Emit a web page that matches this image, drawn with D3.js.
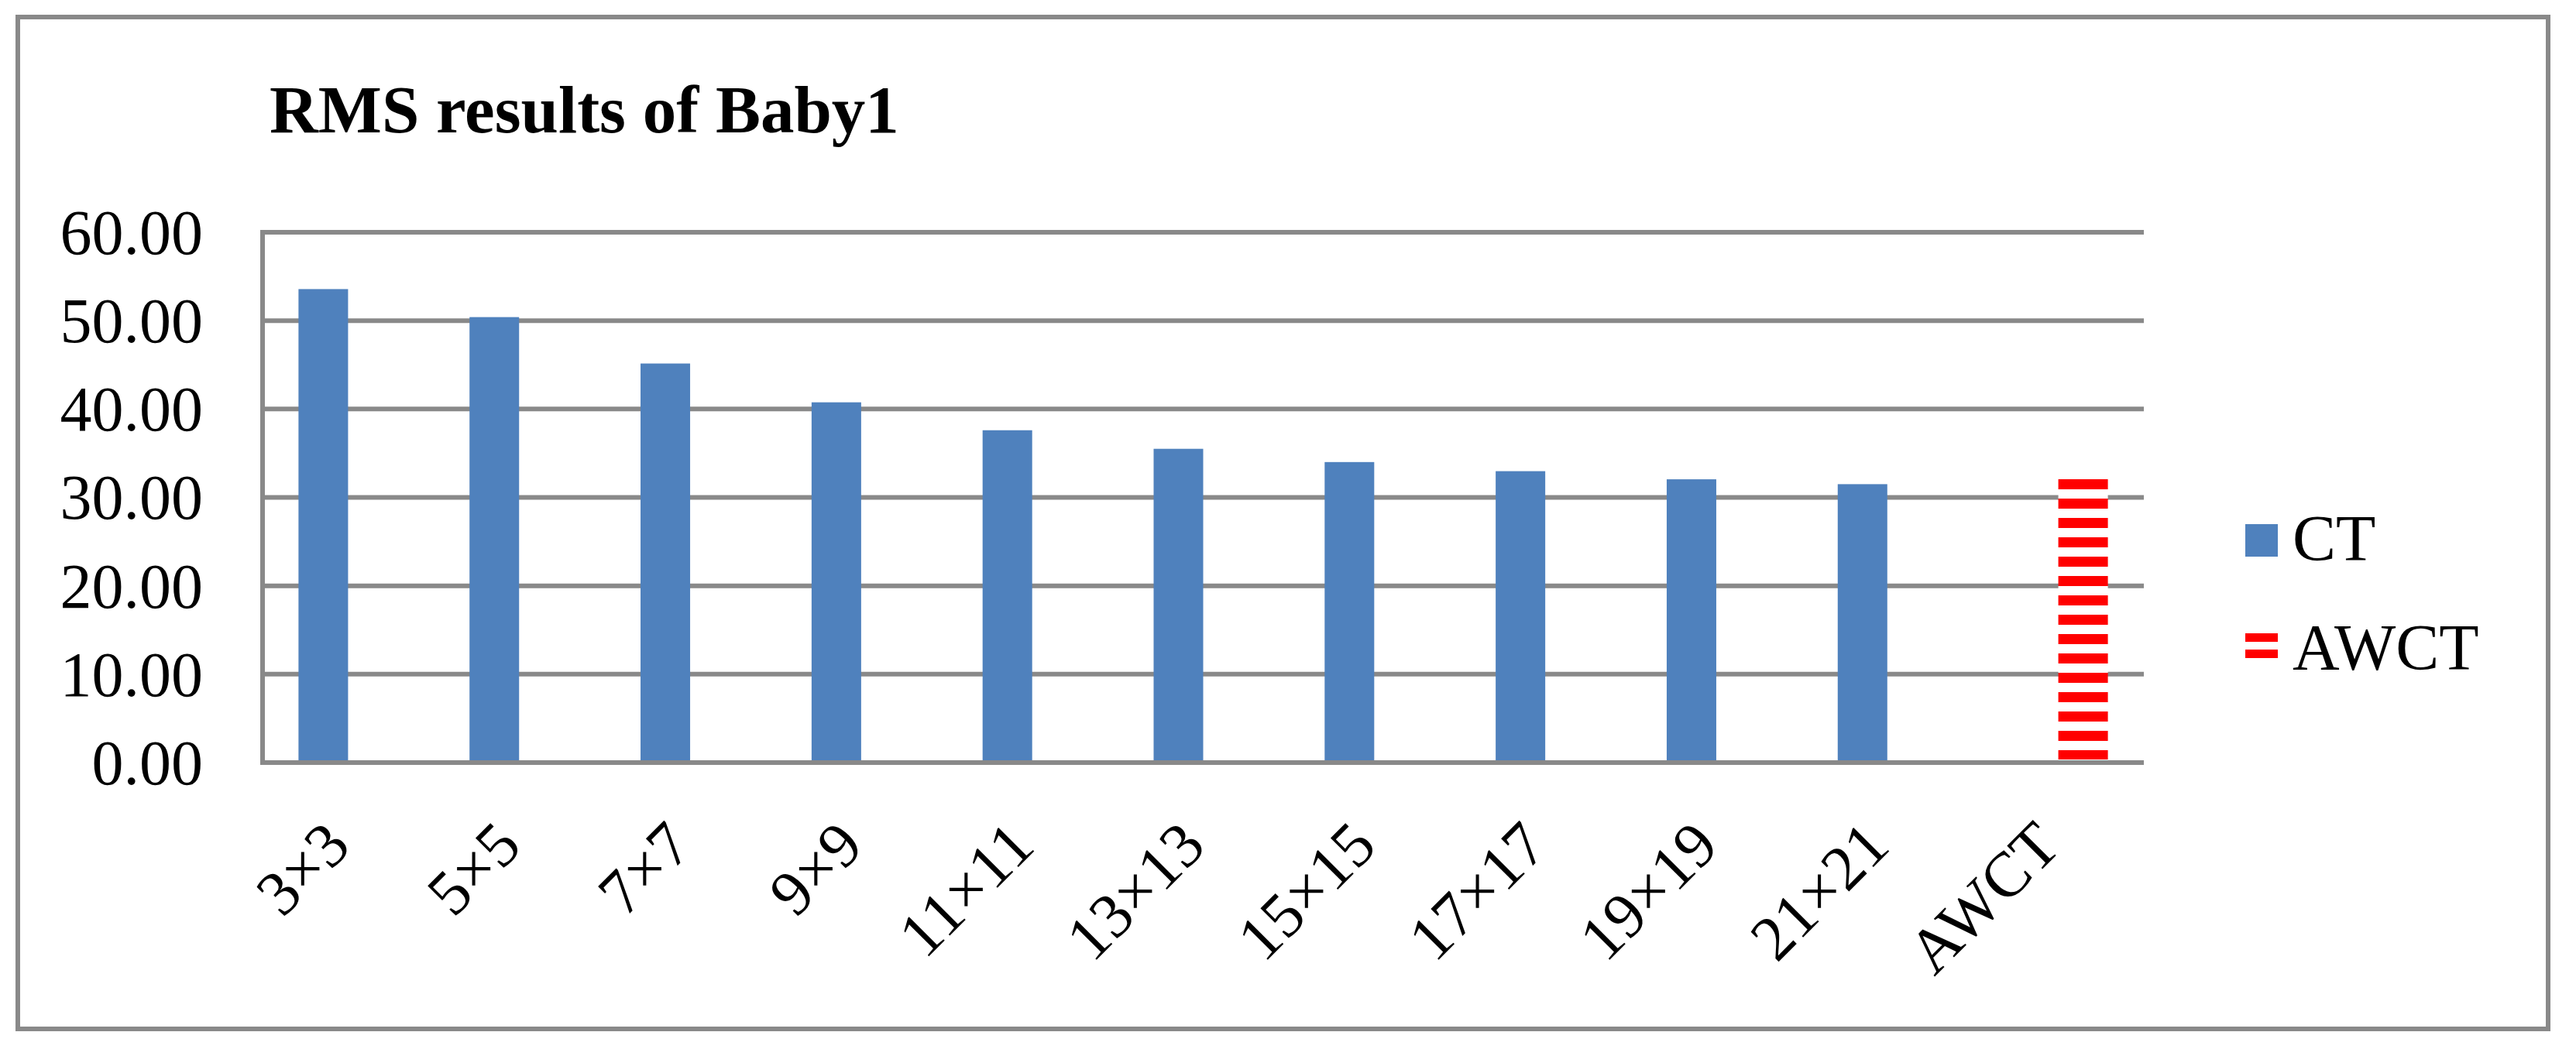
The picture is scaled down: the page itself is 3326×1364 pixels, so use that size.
<!DOCTYPE html>
<html>
<head>
<meta charset="utf-8">
<script src="https://cdn.jsdelivr.net/npm/d3@7"></script>
<style>
  html, body { margin: 0; padding: 0; background: #fff; }
  svg { display: block; }
  text { font-family: "Times New Roman", "Liberation Serif", serif; fill: #000; }
</style>
</head>
<body>
<svg id="chart" width="3326" height="1364"></svg>
<script>
// ---- data ----
const categories = ["3×3", "5×5", "7×7", "9×9", "11×11", "13×13", "15×15", "17×17", "19×19", "21×21", "AWCT"];
const ctValues   = [53.57, 50.40, 45.15, 40.76, 37.60, 35.50, 34.00, 32.97, 32.05, 31.50, null];
const awctValues = [null, null, null, null, null, null, null, null, null, null, 32.10];
const seriesNames = ["CT", "AWCT"];
const yTicks = [0, 10, 20, 30, 40, 50, 60];
const titleText = "RMS results of Baby1";

// ---- layout ----
const plot = { left: 339, right: 2768, top: 300, bottom: 985 };
const gray = "#898989";
const blue = "#4F81BD";
const red = "#FF0000";

const svg = d3.select("#chart");

// pattern for AWCT (horizontal dashes)
const defs = svg.append("defs");
const pat = defs.append("pattern")
  .attr("id", "awctPat")
  .attr("patternUnits", "userSpaceOnUse")
  .attr("width", 20).attr("height", 25)
  .attr("y", 619);
pat.append("rect").attr("width", 20).attr("height", 25).attr("fill", "#fff");
pat.append("rect").attr("y", 0).attr("width", 20).attr("height", 13).attr("fill", red);

const lpat = defs.append("pattern")
  .attr("id", "legPat").attr("patternUnits", "userSpaceOnUse")
  .attr("width", 20).attr("height", 21).attr("y", 818);
lpat.append("rect").attr("width", 20).attr("height", 21).attr("fill", "#fff");
lpat.append("rect").attr("width", 20).attr("height", 11).attr("fill", red);

// outer border
svg.append("rect")
  .attr("x", 23).attr("y", 22)
  .attr("width", 3290 - 23).attr("height", 1329 - 22)
  .attr("fill", "#fff").attr("stroke", gray).attr("stroke-width", 6);

// title
svg.append("text")
  .attr("x", 348).attr("y", 171)
  .attr("font-size", 87).attr("font-weight", "bold")
  .text(titleText);

// scales
const x = d3.scaleBand().domain(categories).range([plot.left, plot.right]).paddingInner(0).paddingOuter(0);
const xs = d3.scaleBand().domain(seriesNames).range([0, x.bandwidth()]).paddingInner(0).paddingOuter(0.725);
const y = d3.scaleLinear().domain([0, 60]).range([plot.bottom, plot.top]);

// gridlines
svg.append("g").selectAll("line").data(yTicks).join("line")
  .attr("x1", plot.left).attr("x2", plot.right)
  .attr("y1", d => y(d)).attr("y2", d => y(d))
  .attr("stroke", gray).attr("stroke-width", 6);

// y axis line
svg.append("line")
  .attr("x1", plot.left).attr("x2", plot.left)
  .attr("y1", plot.top - 3).attr("y2", plot.bottom + 3)
  .attr("stroke", gray).attr("stroke-width", 6);

// y labels
const fmt = d3.format(".2f");
svg.append("g").selectAll("text").data(yTicks).join("text")
  .attr("x", 262).attr("y", d => y(d))
  .attr("dy", "0.34em")
  .attr("text-anchor", "end")
  .attr("font-size", 82)
  .text(d => fmt(d));

// CT bars
svg.append("g").selectAll("rect").data(categories.map((c, i) => ({ c, v: ctValues[i] })).filter(d => d.v != null))
  .join("rect")
  .attr("x", d => x(d.c) + xs("CT"))
  .attr("width", xs.bandwidth())
  .attr("y", d => y(d.v))
  .attr("height", d => y(0) - y(d.v))
  .attr("fill", blue);

// AWCT bars
svg.append("g").selectAll("rect").data(categories.map((c, i) => ({ c, v: awctValues[i] })).filter(d => d.v != null))
  .join("rect")
  .attr("x", d => x(d.c) + xs("AWCT"))
  .attr("width", xs.bandwidth())
  .attr("y", d => y(d.v))
  .attr("height", d => y(0) - y(d.v) - 4)
  .attr("fill", "url(#awctPat)");

// bottom axis line (drawn above bars)
svg.append("line")
  .attr("x1", plot.left - 3).attr("x2", plot.right)
  .attr("y1", plot.bottom).attr("y2", plot.bottom)
  .attr("stroke", gray).attr("stroke-width", 6);

// x labels rotated
svg.append("g").selectAll("text").data(categories).join("text")
  .attr("transform", d => `translate(${x(d) + x.bandwidth() / 2 + 6},1096) rotate(-45)`)
  .attr("text-anchor", "end")
  .attr("font-size", 82)
  .text(d => d);

// legend
const lg = svg.append("g");
const legendRows = [
  { name: "CT", sy: 677, sh: 42, ty: 724 },
  { name: "AWCT", sy: 818, sh: 36, ty: 865 }
];
lg.selectAll("rect.sw").data(legendRows).join("rect")
  .attr("class", "sw")
  .attr("x", 2899).attr("y", d => d.sy)
  .attr("width", 42).attr("height", d => d.sh)
  .attr("fill", d => d.name === "CT" ? blue : "url(#legPat)");
lg.selectAll("text").data(legendRows).join("text")
  .attr("x", 2960).attr("y", d => d.ty)
  .attr("font-size", 84)
  .text(d => d.name);
</script>
</body>
</html>
